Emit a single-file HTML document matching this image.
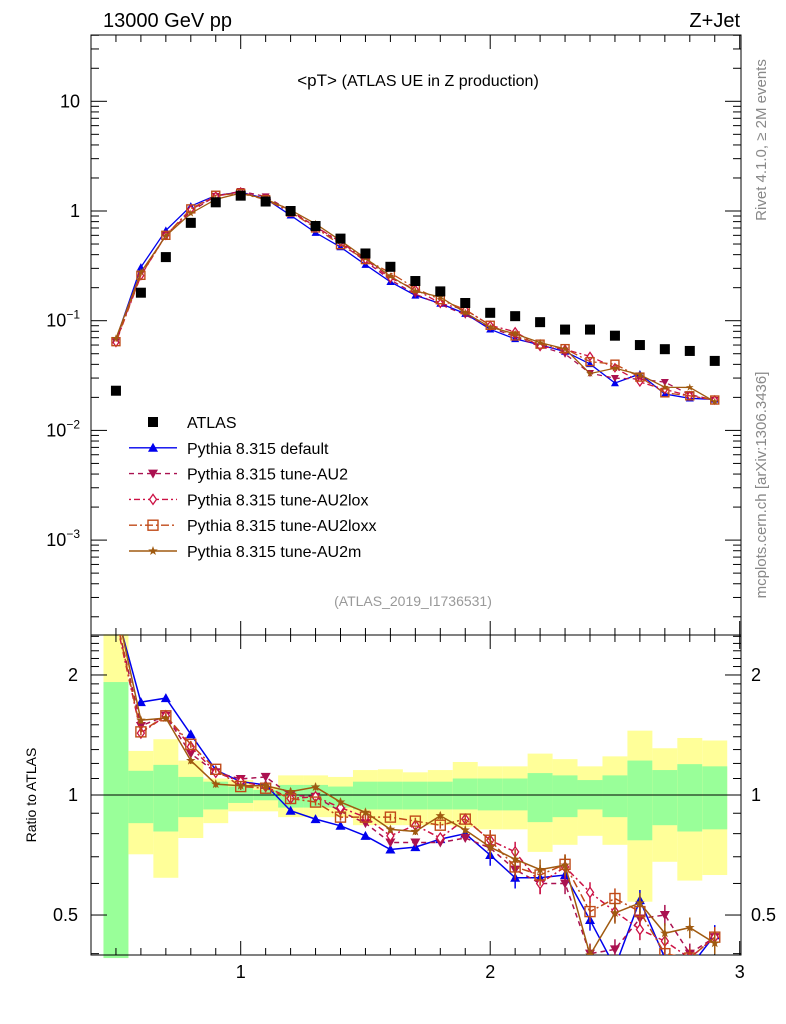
<!DOCTYPE html>
<html><head><meta charset="utf-8"><style>
body{margin:0;background:#fff;}
svg{display:block;font-family:"Liberation Sans",sans-serif;}
</style></head><body>
<svg id="chart" width="786" height="1024" viewBox="0 0 786 1024">
<g id="bands"></g>
<g id="grid"></g>
<g id="series"></g>
<text x="103" y="27" font-size="20">13000 GeV pp</text>
<text x="740" y="27" font-size="20" text-anchor="end">Z+Jet</text>
<text x="418" y="86" font-size="17" text-anchor="middle">&lt;pT&gt; <tspan font-size="16">(ATLAS UE in Z production)</tspan></text>
<text x="413" y="606" font-size="14" fill="#999" text-anchor="middle">(ATLAS_2019_I1736531)</text>
<text transform="translate(766,140) rotate(-90)" font-size="15" fill="#888" text-anchor="middle">Rivet 4.1.0, ≥ 2M events</text>
<text transform="translate(766,485) rotate(-90)" font-size="15" fill="#888" text-anchor="middle">mcplots.cern.ch [arXiv:1306.3436]</text>
<text transform="translate(36,795) rotate(-90)" font-size="14" text-anchor="middle">Ratio to ATLAS</text>
<g id="legend"></g>
</svg>
<script>
const xVals=[0.5,0.6,0.7,0.8,0.9,1.0,1.1,1.2,1.3,1.4,1.5,1.6,1.7,1.8,1.9,2.0,2.1,2.2,2.3,2.4,2.5,2.6,2.7,2.8,2.9];
const atlas=[0.023,0.18,0.38,0.78,1.2,1.38,1.22,1.0,0.73,0.56,0.41,0.31,0.23,0.185,0.145,0.118,0.11,0.097,0.083,0.083,0.073,0.06,0.055,0.053,0.043];
const rDefault=[2.9,1.71,1.75,1.42,1.155,1.08,1.06,0.913,0.87,0.837,0.79,0.73,0.74,0.775,0.80,0.707,0.62,0.62,0.63,0.486,0.37,0.545,0.39,0.37,0.445];
const rAU2=[2.8,1.49,1.58,1.27,1.14,1.097,1.11,1.0,0.99,0.91,0.85,0.76,0.76,0.76,0.78,0.736,0.65,0.60,0.60,0.40,0.41,0.49,0.50,0.40,0.44];
const rAU2lox=[2.75,1.43,1.58,1.32,1.14,1.08,1.05,0.98,0.99,0.93,0.88,0.79,0.84,0.78,0.87,0.77,0.72,0.60,0.66,0.57,0.51,0.46,0.43,0.39,0.44];
const rAU2loxx=[2.8,1.44,1.58,1.34,1.16,1.05,1.04,0.98,0.96,0.88,0.88,0.88,0.86,0.84,0.87,0.77,0.66,0.63,0.67,0.51,0.55,0.51,0.40,0.39,0.44];
const rAU2m=[3.0,1.54,1.56,1.22,1.065,1.055,1.055,1.02,1.047,0.96,0.905,0.82,0.81,0.887,0.817,0.74,0.69,0.65,0.667,0.397,0.506,0.536,0.45,0.465,0.425];
const yellowHi=[3,1.29,1.38,1.22,1.10,1.09,1.05,1.12,1.12,1.11,1.155,1.16,1.14,1.155,1.21,1.18,1.18,1.27,1.23,1.18,1.25,1.45,1.31,1.39,1.37];
const yellowLo=[0.3,0.71,0.62,0.78,0.85,0.91,0.91,0.88,0.88,0.88,0.84,0.84,0.84,0.84,0.83,0.82,0.82,0.72,0.75,0.79,0.75,0.54,0.68,0.61,0.63];
const greenHi=[1.92,1.15,1.19,1.11,1.08,1.05,1.03,1.06,1.06,1.05,1.08,1.08,1.08,1.08,1.10,1.10,1.10,1.135,1.12,1.09,1.12,1.22,1.155,1.195,1.18];
const greenLo=[0.3,0.85,0.81,0.88,0.92,0.955,0.97,0.93,0.93,0.93,0.92,0.92,0.92,0.92,0.92,0.915,0.915,0.855,0.88,0.92,0.88,0.77,0.84,0.81,0.82];
const xTicks=[1,2,3];
const mainTicks=[1,0,-1,-2,-3];
const ratioTicks=[2,1,0.5];

const NS="http://www.w3.org/2000/svg";
const L=91,R=741,T=35,MB=635,RB=955;
const X=v=>L+(v-0.4)*249.5;
const Y=v=>211-Math.log10(v)*109.7;
const RY=v=>795-Math.log10(v)*398.7;
function mk(tag,attrs,parent){const e=document.createElementNS(NS,tag);for(const k in attrs)e.setAttribute(k,attrs[k]);parent.appendChild(e);return e;}
const bands=document.getElementById('bands'),grid=document.getElementById('grid'),series=document.getElementById('series'),legend=document.getElementById('legend');
const clampR=v=>Math.min(Math.max(v,0.39),2.53);
// bands
xVals.forEach((x,i)=>{
 const r1=mk('rect',{x:X(x-0.05),width:X(x+0.05)-X(x-0.05),y:RY(clampR(yellowHi[i])),height:RY(clampR(yellowLo[i]))-RY(clampR(yellowHi[i])),fill:'#ffff99'},bands);
 
 
 const r2=mk('rect',{x:X(x-0.05),width:X(x+0.05)-X(x-0.05),y:RY(clampR(greenHi[i])),height:RY(clampR(greenLo[i]))-RY(clampR(greenHi[i])),fill:'#99ff99'},bands);
 
 
});
// frames
mk('rect',{x:L,y:T,width:R-L,height:MB-T,fill:'none',stroke:'#000','stroke-width':1},grid);
mk('rect',{x:L,y:MB,width:R-L,height:RB-MB,fill:'none',stroke:'#000','stroke-width':1},grid);
mk('line',{x1:L,x2:R,y1:RY(1),y2:RY(1),stroke:'#000'},grid);
// x ticks
for(let k=4;k<=30;k++){const v=k/10,px=X(v),maj=(k%10==0),len=maj?14:7;
 [[T,T+len],[MB,MB-len],[MB,MB+len],[RB,RB-len]].forEach(([a,b])=>mk('line',{x1:px,x2:px,y1:a,y2:b,stroke:'#000'},grid));}
xTicks.forEach(v=>{const t=mk('text',{x:X(v),y:978,'font-size':18,'text-anchor':'middle'},grid);t.textContent=v;
 
 });
// main y ticks
for(let d=-4;d<=1;d++){for(let m=1;m<=9;m++){const v=m*Math.pow(10,d),py=Y(v);if(py<T||py>MB)continue;const len=m==1?16:8;
 mk('line',{x1:L,x2:L+len,y1:py,y2:py,stroke:'#000'},grid);mk('line',{x1:R,x2:R-len,y1:py,y2:py,stroke:'#000'},grid);}}
mainTicks.forEach(d=>{const t=mk('text',{x:80,y:Y(Math.pow(10,d))+6,'font-size':18,'text-anchor':'end'},grid);
 if(d==1)t.textContent='10';else if(d==0)t.textContent='1';else{t.textContent='10';const s=mk('tspan',{dy:-8,'font-size':12},t);s.textContent='−'+(-d);}
 
 });
// ratio ticks
for(let k=4;k<=25;k++){const v=k/10,py=RY(v);if(py<MB||py>RB)continue;const maj=[0.5,1,2].includes(v),len=maj?16:8;
 mk('line',{x1:L,x2:L+len,y1:py,y2:py,stroke:'#000'},grid);mk('line',{x1:R,x2:R-len,y1:py,y2:py,stroke:'#000'},grid);}
ratioTicks.forEach(v=>{const a=mk('text',{x:78,y:RY(v)+6,'font-size':18,'text-anchor':'end'},grid);a.textContent=v;
 
 
 const b=mk('text',{x:751,y:RY(v)+6,'font-size':18},grid);b.textContent=v;
 
 });
// markers
function marker(type,cx,cy,col,g,s){s=s||5;
 if(type=='sq')return mk('rect',{x:cx-5,y:cy-5,width:10,height:10,fill:'#000'},g);
 if(type=='up')return mk('polygon',{points:`${cx},${cy-s} ${cx-s},${cy+s*0.8} ${cx+s},${cy+s*0.8}`,fill:col},g);
 if(type=='dn')return mk('polygon',{points:`${cx},${cy+s} ${cx-s},${cy-s*0.8} ${cx+s},${cy-s*0.8}`,fill:col},g);
 if(type=='dia')return mk('polygon',{points:`${cx},${cy-s} ${cx-s*0.7},${cy} ${cx},${cy+s} ${cx+s*0.7},${cy}`,fill:'#fff',stroke:col,'stroke-width':1.3},g);
 if(type=='osq')return mk('rect',{x:cx-s,y:cy-s,width:2*s,height:2*s,fill:'none',stroke:col,'stroke-width':1.4},g);
 if(type=='star'){let p=[];for(let i=0;i<10;i++){const a=-Math.PI/2+i*Math.PI/5,r=i%2?s*0.4:s;p.push((cx+r*Math.cos(a)).toFixed(1)+','+(cy+r*Math.sin(a)).toFixed(1));}return mk('polygon',{points:p.join(' '),fill:col},g);}
}
const models=[
 {name:'Pythia 8.315 default',r:rDefault,col:'#0000ee',dash:'',m:'up',id:'default'},
 {name:'Pythia 8.315 tune-AU2',r:rAU2,col:'#aa1150',dash:'5,4',m:'dn',id:'au2'},
 {name:'Pythia 8.315 tune-AU2lox',r:rAU2lox,col:'#cc1144',dash:'2,3,6,3',m:'dia',id:'au2lox'},
 {name:'Pythia 8.315 tune-AU2loxx',r:rAU2loxx,col:'#c04a18',dash:'8,3,2,3',m:'osq',id:'au2loxx'},
 {name:'Pythia 8.315 tune-AU2m',r:rAU2m,col:'#a05a10',dash:'',m:'star',id:'au2m'}];
const clip=mk('clipPath',{id:'cm'},series);mk('rect',{x:L,y:T,width:R-L,height:MB-T},clip);
const clip2=mk('clipPath',{id:'cr'},series);mk('rect',{x:L,y:MB,width:R-L,height:RB-MB},clip2);
models.forEach(md=>{
 const g=mk('g',{'clip-path':'url(#cm)'},series);
 
 
 const vals=md.r.map((r,i)=>r*atlas[i]);
 mk('polyline',{points:vals.map((v,i)=>X(xVals[i])+','+Y(v)).join(' '),fill:'none',stroke:md.col,'stroke-width':1.3,'stroke-dasharray':md.dash},g);
 vals.forEach((v,i)=>{const e=marker(md.m,X(xVals[i]),Y(v),md.col,g,4);
  
  });
 const g2=mk('g',{'clip-path':'url(#cr)'},series);
 
 
 mk('polyline',{points:md.r.map((r,i)=>X(xVals[i])+','+RY(r)).join(' '),fill:'none',stroke:md.col,'stroke-width':1.5,'stroke-dasharray':md.dash},g2);
 md.r.forEach((r,i)=>{const cx=X(xVals[i]),cy=RY(r),err=i>14?0.06:0.02;
  mk('line',{x1:cx,x2:cx,y1:RY(r*(1+err)),y2:RY(r*(1-err)),stroke:md.col,'stroke-width':1.5},g2);
  const e=marker(md.m,cx,cy,md.col,g2,5);
  
  });
});
const ga=mk('g',{},series);


atlas.forEach((v,i)=>{const e=marker('sq',X(xVals[i]),Y(v),'#000',ga);
 
 });
// legend
const items=[{name:'ATLAS',m:'sq',col:'#000',dash:null}].concat(models);
items.forEach((it,k)=>{const y=422+k*25.8;
 const g=mk('g',{},legend);
 
 
 if(it.dash!==null)mk('line',{x1:129,x2:177,y1:y,y2:y,stroke:it.col,'stroke-width':1.4,'stroke-dasharray':it.dash},g);
 marker(it.m,153,y,it.col,g,5);
 const t=mk('text',{x:187,y:y+6,'font-size':16},g);t.textContent=it.name;});
</script>
</body></html>
